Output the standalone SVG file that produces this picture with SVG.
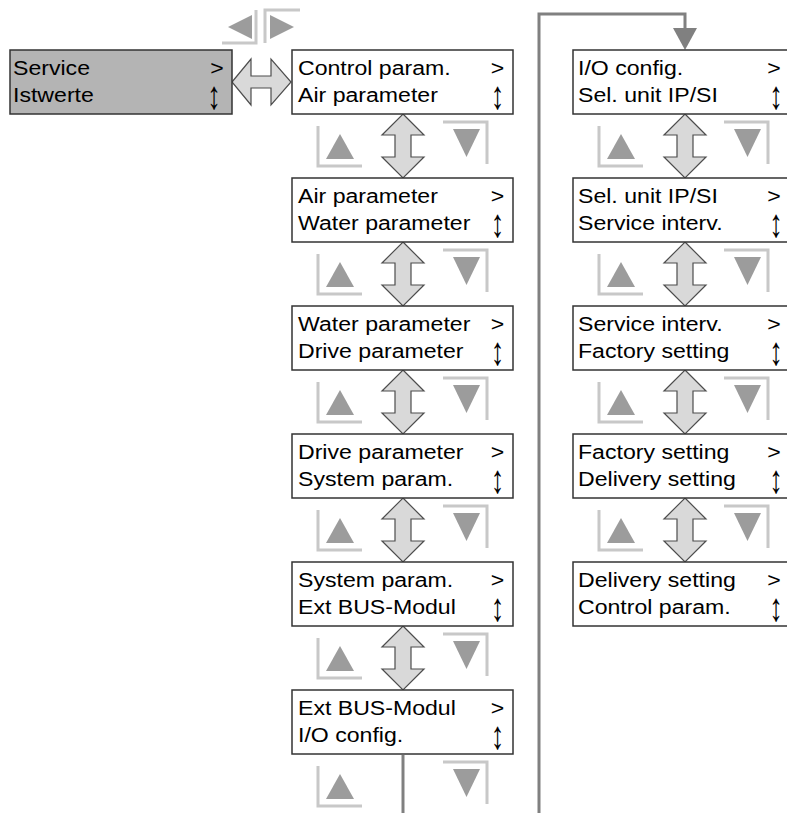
<svg xmlns="http://www.w3.org/2000/svg" xmlns:xlink="http://www.w3.org/1999/xlink" width="787" height="813" viewBox="0 0 787 813">
<style>
.box{fill:#ffffff;stroke:#333333;stroke-width:1.5}
.box.sel{fill:#b4b4b4}
.t{font-family:"Liberation Sans",Arial,sans-serif;font-size:21px;fill:#000000}
.m{text-anchor:middle}
.dbl{fill:#d9d9d9;stroke:#4d4d4d;stroke-width:1.2;stroke-linejoin:miter}
.brk{fill:none;stroke:#c8c8c8;stroke-width:3}
.tri{fill:#9c9c9c}
.conn{fill:none;stroke:#808080;stroke-width:3}
.head{fill:#808080}
</style>
<defs>
<path id="vArrow" class="dbl" d="M0,0 L21,21 L8,21 L8,43 L21,43 L0,64 L-21,43 L-8,43 L-8,21 L-21,21 Z"/>
<g id="upIcon">
<path class="brk" d="M26,12 V52 H70"/>
<polygon class="tri" points="48,20 62,45 34,45"/>
</g>
<g id="downIcon">
<path class="brk" d="M151,8 H195 V50"/>
<polygon class="tri" points="161,15 188,15 174.5,43"/>
</g>
</defs>

<g id="nav-left-right">
<path class="brk" d="M222,43 H256 V10"/>
<polygon class="tri" fill="#a8a8a8" points="228,27 252,15 252,39"/>
<path class="brk" d="M265,43 V10 H300"/>
<polygon class="tri" fill="#a8a8a8" points="270,15 270,39 294,27"/>
</g>

<g id="connectors">
<path class="dbl" d="M232,82 L251,59 L251,76 L271,76 L271,59 L291,82 L271,105 L271,88 L251,88 L251,105 Z"/>
<use xlink:href="#vArrow" x="403" y="114"/>
<use xlink:href="#vArrow" x="403" y="242"/>
<use xlink:href="#vArrow" x="403" y="370"/>
<use xlink:href="#vArrow" x="403" y="498"/>
<use xlink:href="#vArrow" x="403" y="626"/>
<use xlink:href="#vArrow" x="685" y="114"/>
<use xlink:href="#vArrow" x="685" y="242"/>
<use xlink:href="#vArrow" x="685" y="370"/>
<use xlink:href="#vArrow" x="685" y="498"/>
<path class="conn" d="M403,755 V813"/>
<path class="conn" d="M539,813 V14 H685 V29"/>
<polygon class="head" points="673,28 697,28 685,50"/>
</g>

<g id="scroll-icons">
<use xlink:href="#upIcon" x="292" y="114"/>
<use xlink:href="#downIcon" x="292" y="114"/>
<use xlink:href="#upIcon" x="292" y="242"/>
<use xlink:href="#downIcon" x="292" y="242"/>
<use xlink:href="#upIcon" x="292" y="370"/>
<use xlink:href="#downIcon" x="292" y="370"/>
<use xlink:href="#upIcon" x="292" y="498"/>
<use xlink:href="#downIcon" x="292" y="498"/>
<use xlink:href="#upIcon" x="292" y="626"/>
<use xlink:href="#downIcon" x="292" y="626"/>
<use xlink:href="#upIcon" x="292" y="754"/>
<use xlink:href="#downIcon" x="292" y="754"/>
<use xlink:href="#upIcon" x="573" y="114"/>
<use xlink:href="#downIcon" x="573" y="114"/>
<use xlink:href="#upIcon" x="573" y="242"/>
<use xlink:href="#downIcon" x="573" y="242"/>
<use xlink:href="#upIcon" x="573" y="370"/>
<use xlink:href="#downIcon" x="573" y="370"/>
<use xlink:href="#upIcon" x="573" y="498"/>
<use xlink:href="#downIcon" x="573" y="498"/>
</g>

<g id="service">
<rect class="box sel" x="10" y="50" width="222" height="64"/>
<text class="t" transform="matrix(1.1 0 0 1 13 75)">Service</text>
<text class="t" transform="matrix(1.1 0 0 1 13 102)">Istwerte</text>
<text class="t m" transform="matrix(1.1 0 0 1 217 75)">&gt;</text>
<text class="t m" transform="matrix(1.3 0 0 1.9 214 109)">↕</text>
</g>

<g id="control-param">
<rect class="box" x="292" y="50" width="221" height="64"/>
<text class="t" transform="matrix(1.1 0 0 1 298 75)">Control param.</text>
<text class="t" transform="matrix(1.1 0 0 1 298 102)">Air parameter</text>
<text class="t m" transform="matrix(1.1 0 0 1 497.5 75)">&gt;</text>
<text class="t m" transform="matrix(1.3 0 0 1.9 497.5 109)">↕</text>
</g>

<g id="air-parameter">
<rect class="box" x="292" y="178" width="221" height="64"/>
<text class="t" transform="matrix(1.1 0 0 1 298 203)">Air parameter</text>
<text class="t" transform="matrix(1.1 0 0 1 298 230)">Water parameter</text>
<text class="t m" transform="matrix(1.1 0 0 1 497.5 203)">&gt;</text>
<text class="t m" transform="matrix(1.3 0 0 1.9 497.5 237)">↕</text>
</g>

<g id="water-parameter">
<rect class="box" x="292" y="306" width="221" height="64"/>
<text class="t" transform="matrix(1.1 0 0 1 298 331)">Water parameter</text>
<text class="t" transform="matrix(1.1 0 0 1 298 358)">Drive parameter</text>
<text class="t m" transform="matrix(1.1 0 0 1 497.5 331)">&gt;</text>
<text class="t m" transform="matrix(1.3 0 0 1.9 497.5 365)">↕</text>
</g>

<g id="drive-parameter">
<rect class="box" x="292" y="434" width="221" height="64"/>
<text class="t" transform="matrix(1.1 0 0 1 298 459)">Drive parameter</text>
<text class="t" transform="matrix(1.1 0 0 1 298 486)">System param.</text>
<text class="t m" transform="matrix(1.1 0 0 1 497.5 459)">&gt;</text>
<text class="t m" transform="matrix(1.3 0 0 1.9 497.5 493)">↕</text>
</g>

<g id="system-param">
<rect class="box" x="292" y="562" width="221" height="64"/>
<text class="t" transform="matrix(1.1 0 0 1 298 587)">System param.</text>
<text class="t" transform="matrix(1.1 0 0 1 298 614)">Ext BUS-Modul</text>
<text class="t m" transform="matrix(1.1 0 0 1 497.5 587)">&gt;</text>
<text class="t m" transform="matrix(1.3 0 0 1.9 497.5 621)">↕</text>
</g>

<g id="ext-bus-modul">
<rect class="box" x="292" y="690" width="221" height="64"/>
<text class="t" transform="matrix(1.1 0 0 1 298 715)">Ext BUS-Modul</text>
<text class="t" transform="matrix(1.1 0 0 1 298 742)">I/O config.</text>
<text class="t m" transform="matrix(1.1 0 0 1 497.5 715)">&gt;</text>
<text class="t m" transform="matrix(1.3 0 0 1.9 497.5 749)">↕</text>
</g>

<g id="io-config">
<rect class="box" x="573" y="50" width="221" height="64"/>
<text class="t" transform="matrix(1.1 0 0 1 578 75)">I/O config.</text>
<text class="t" transform="matrix(1.1 0 0 1 578 102)">Sel. unit IP/SI</text>
<text class="t m" transform="matrix(1.1 0 0 1 774 75)">&gt;</text>
<text class="t m" transform="matrix(1.3 0 0 1.9 776 109)">↕</text>
</g>

<g id="sel-unit">
<rect class="box" x="573" y="178" width="221" height="64"/>
<text class="t" transform="matrix(1.1 0 0 1 578 203)">Sel. unit IP/SI</text>
<text class="t" transform="matrix(1.1 0 0 1 578 230)">Service interv.</text>
<text class="t m" transform="matrix(1.1 0 0 1 774 203)">&gt;</text>
<text class="t m" transform="matrix(1.3 0 0 1.9 776 237)">↕</text>
</g>

<g id="service-interv">
<rect class="box" x="573" y="306" width="221" height="64"/>
<text class="t" transform="matrix(1.1 0 0 1 578 331)">Service interv.</text>
<text class="t" transform="matrix(1.1 0 0 1 578 358)">Factory setting</text>
<text class="t m" transform="matrix(1.1 0 0 1 774 331)">&gt;</text>
<text class="t m" transform="matrix(1.3 0 0 1.9 776 365)">↕</text>
</g>

<g id="factory-setting">
<rect class="box" x="573" y="434" width="221" height="64"/>
<text class="t" transform="matrix(1.1 0 0 1 578 459)">Factory setting</text>
<text class="t" transform="matrix(1.1 0 0 1 578 486)">Delivery setting</text>
<text class="t m" transform="matrix(1.1 0 0 1 774 459)">&gt;</text>
<text class="t m" transform="matrix(1.3 0 0 1.9 776 493)">↕</text>
</g>

<g id="delivery-setting">
<rect class="box" x="573" y="562" width="221" height="64"/>
<text class="t" transform="matrix(1.1 0 0 1 578 587)">Delivery setting</text>
<text class="t" transform="matrix(1.1 0 0 1 578 614)">Control param.</text>
<text class="t m" transform="matrix(1.1 0 0 1 774 587)">&gt;</text>
<text class="t m" transform="matrix(1.3 0 0 1.9 776 621)">↕</text>
</g>
</svg>
